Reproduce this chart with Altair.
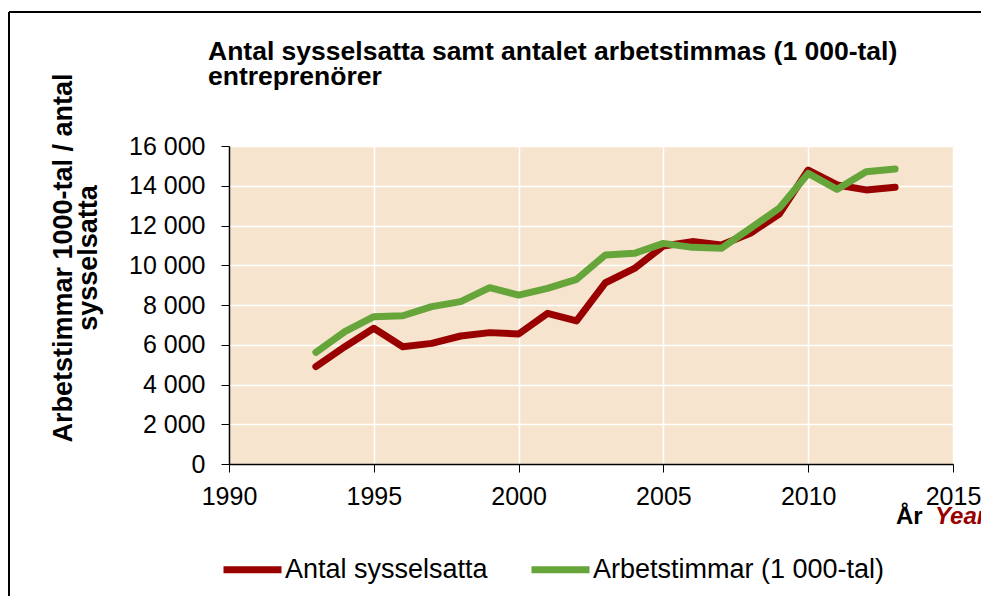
import altair as alt
import pandas as pd

years = list(range(1993, 2014))
antal = [4900, 5900, 6830, 5900, 6070, 6440, 6610, 6540, 7580, 7200, 9120,
         9840, 10970, 11190, 11020, 11610, 12580, 14790, 14040, 13790, 13920]
timmar = [5620, 6660, 7410, 7460, 7920, 8170, 8870, 8500, 8840, 9290, 10520,
          10600, 11100, 10900, 10850, 11860, 12870, 14620, 13820, 14710, 14840]
series_names = ["Antal sysselsatta", "Arbetstimmar (1 000-tal)"]
series_colors = ["#990000", "#66A53A"]
x_ticks = [1990, 1995, 2000, 2005, 2010, 2015]
y_ticks = [0, 2000, 4000, 6000, 8000, 10000, 12000, 14000, 16000]
title_lines = ["Antal sysselsatta samt antalet arbetstimmas (1 000-tal)", "entreprenörer"]
y_title = ["Arbetstimmar 1000-tal / antal", "sysselsatta"]
x_title_sv = "År"
x_title_en = "Year"

FONT = "Liberation Sans, Arial, sans-serif"

df = pd.DataFrame({
    "year": years * 2,
    "value": antal + timmar,
    "series": [series_names[0]] * len(years) + [series_names[1]] * len(years),
})

lines = alt.Chart(df).mark_line(strokeWidth=7, strokeCap="round", strokeJoin="round").encode(
    x=alt.X("year:Q",
            scale=alt.Scale(domain=[1990, 2015], nice=False, zero=False),
            axis=alt.Axis(values=x_ticks, format="d", title=None, labelPadding=12,
                          labelFlush=False)),
    y=alt.Y("value:Q",
            scale=alt.Scale(domain=[0, 16000], nice=False),
            axis=alt.Axis(values=y_ticks,
                          labelExpr="replace(format(datum.value, ','), ',', ' ')",
                          labelPadding=16,
                          title=y_title, titleAngle=270, titleX=-166, titleY=111.5,
                          titleAlign="center", titleBaseline="middle",
                          titleFontSize=27, titleFontWeight="bold", titleLineHeight=25,
                          titleFont=FONT, titleColor="black")),
    color=alt.Color("series:N",
                    scale=alt.Scale(domain=series_names, range=series_colors),
                    legend=alt.Legend(title=None, orient="none", legendX=-9, legendY=391,
                                      direction="horizontal", symbolType="stroke",
                                      symbolSize=3364, symbolStrokeWidth=7,
                                      labelFontSize=27, labelFont=FONT, labelColor="black",
                                      labelLimit=500,
                                      columnPadding=29, labelOffset=0, padding=0)),
)

title_text = alt.Chart(pd.DataFrame({"t": ["\n".join(title_lines)]})).mark_text(
    align="left", baseline="alphabetic", fontSize=26.5, fontWeight="bold",
    lineBreak="\n", lineHeight=25, font=FONT, color="black"
).encode(text="t:N", x=alt.value(-21), y=alt.value(-86))

xt_sv = alt.Chart(pd.DataFrame({"t": [x_title_sv]})).mark_text(
    align="left", baseline="alphabetic", fontSize=24, fontWeight="bold", font=FONT, color="black"
).encode(text="t:N", x=alt.value(667), y=alt.value(378))

xt_en = alt.Chart(pd.DataFrame({"t": [x_title_en]})).mark_text(
    align="left", baseline="alphabetic", fontSize=24, fontWeight="bold", fontStyle="italic",
    font=FONT, color="#990000"
).encode(text="t:N", x=alt.value(706), y=alt.value(378))

frame_df = pd.DataFrame({"a": [0]})
frame_top = alt.Chart(frame_df).mark_rule(color="black", strokeWidth=2).encode(
    x=alt.value(-220), x2=alt.value(800), y=alt.value(-134))
frame_left = alt.Chart(frame_df).mark_rule(color="black", strokeWidth=2).encode(
    x=alt.value(-220), y=alt.value(-134), y2=alt.value(600))

chart = alt.layer(lines, title_text, xt_sv, xt_en, frame_top, frame_left).properties(
    width=724, height=318,
    autosize=alt.AutoSizeParams(type="none"),
    padding={"left": 221, "top": 138, "right": 28, "bottom": 132},
    background="white",
).configure_view(
    fill="#F6E4CE", stroke="#8c8c8c", strokeWidth=1
).configure_axis(
    domainColor="black", domainWidth=1.5, tickColor="black", tickSize=8, tickWidth=1,
    labelColor="black", labelFont=FONT, labelFontSize=25,
    grid=True, gridColor="white", gridWidth=1.5, gridOpacity=1,
)

chart.save("out.html", embed_options={"renderer": "svg", "actions": False})
